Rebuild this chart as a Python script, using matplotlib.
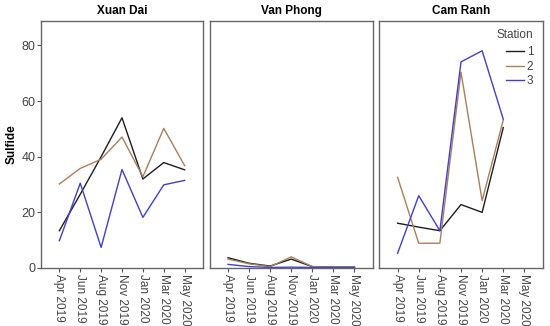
import matplotlib
matplotlib.use('Agg')
import matplotlib.pyplot as plt
import numpy as np

plt.rcParams['font.family'] = ['Liberation Sans', 'DejaVu Sans']

# Data
months = ['Apr 2019', 'Jun 2019', 'Aug 2019', 'Nov 2019', 'Jan 2020', 'Mar 2020', 'May 2020']
sites = ['Xuan Dai', 'Van Phong', 'Cam Ranh']
stations = ['1', '2', '3']

xuan_dai = {
    '1': [13.4, 26.5, 40.0, 54.0, 32.0, 37.9, 35.3],
    '2': [30.2, 35.8, 39.1, 47.1, 32.8, 50.2, 36.8],
    '3': [9.8, 30.5, 7.4, 35.4, 18.2, 29.9, 31.5],
}
van_phong = {
    '1': [3.7, 1.7, 0.7, 3.2, 0.5, 0.3, 0.3],
    '2': [3.2, 1.5, 0.5, 4.0, 0.5, 0.3, 0.3],
    '3': [1.3, 0.5, 0.2, 0.3, 0.2, 0.2, 0.2],
}
cam_ranh = {
    '1': [16.1, 14.7, 13.4, 22.8, 20.0, 50.5, np.nan],
    '2': [32.6, 8.9, 8.9, 70.4, 24.2, 53.2, np.nan],
    '3': [5.3, 26.0, 13.4, 74.1, 78.1, 53.5, np.nan],
}
site_data = [xuan_dai, van_phong, cam_ranh]

colors = {'1': '#1e1e1e', '2': '#a8805e', '3': '#4040cc'}

fig = plt.figure(figsize=(5.5, 3.26), dpi=100)
lefts = [41, 209.5, 379]
rights = [203, 373, 543]
top, bottom = 21, 268
W, H = 550, 326

x = np.arange(len(months))
for i, (site, data) in enumerate(zip(sites, site_data)):
    ax = fig.add_axes([lefts[i] / W, 1 - bottom / H,
                       (rights[i] - lefts[i]) / W, (bottom - top) / H])
    for s in stations:
        ax.plot(x, data[s], color=colors[s], lw=1.0, label=s)
    ax.set_xlim(-0.88, 6.88)
    ax.set_ylim(0, 88.8)
    ax.set_xticks(x)
    ax.set_xticklabels(months, rotation=270, fontsize=8.5, color='#444444')
    ax.tick_params(axis='x', length=3, color='#555555', pad=1)
    ax.set_title(site, fontsize=8.5, fontweight='bold', pad=5)
    for sp in ax.spines.values():
        sp.set_color('#666666')
        sp.set_linewidth(1.0)
    if i == 0:
        ax.set_yticks([0, 20, 40, 60, 80])
        ax.tick_params(axis='y', labelsize=9, labelcolor='#444444',
                       length=3, color='#555555', pad=1)
        ax.set_ylabel('Sulfide', fontsize=8.5, fontweight='bold', labelpad=3)
    else:
        ax.set_yticks([])
    if i == 2:
        leg = ax.legend(title='Station', loc='upper right', frameon=False,
                        bbox_to_anchor=(0.985, 0.997),
                        fontsize=8.5, title_fontsize=8.5, handlelength=1.6,
                        handletextpad=0.2, labelspacing=0.2,
                        borderaxespad=0.3, borderpad=0.3)
        leg._legend_box.align = 'right'
        leg._legend_box.sep = 4
        for t in leg.get_texts():
            t.set_color('#444444')
        leg.get_title().set_color('#444444')

fig.savefig('out.png', dpi=100)
